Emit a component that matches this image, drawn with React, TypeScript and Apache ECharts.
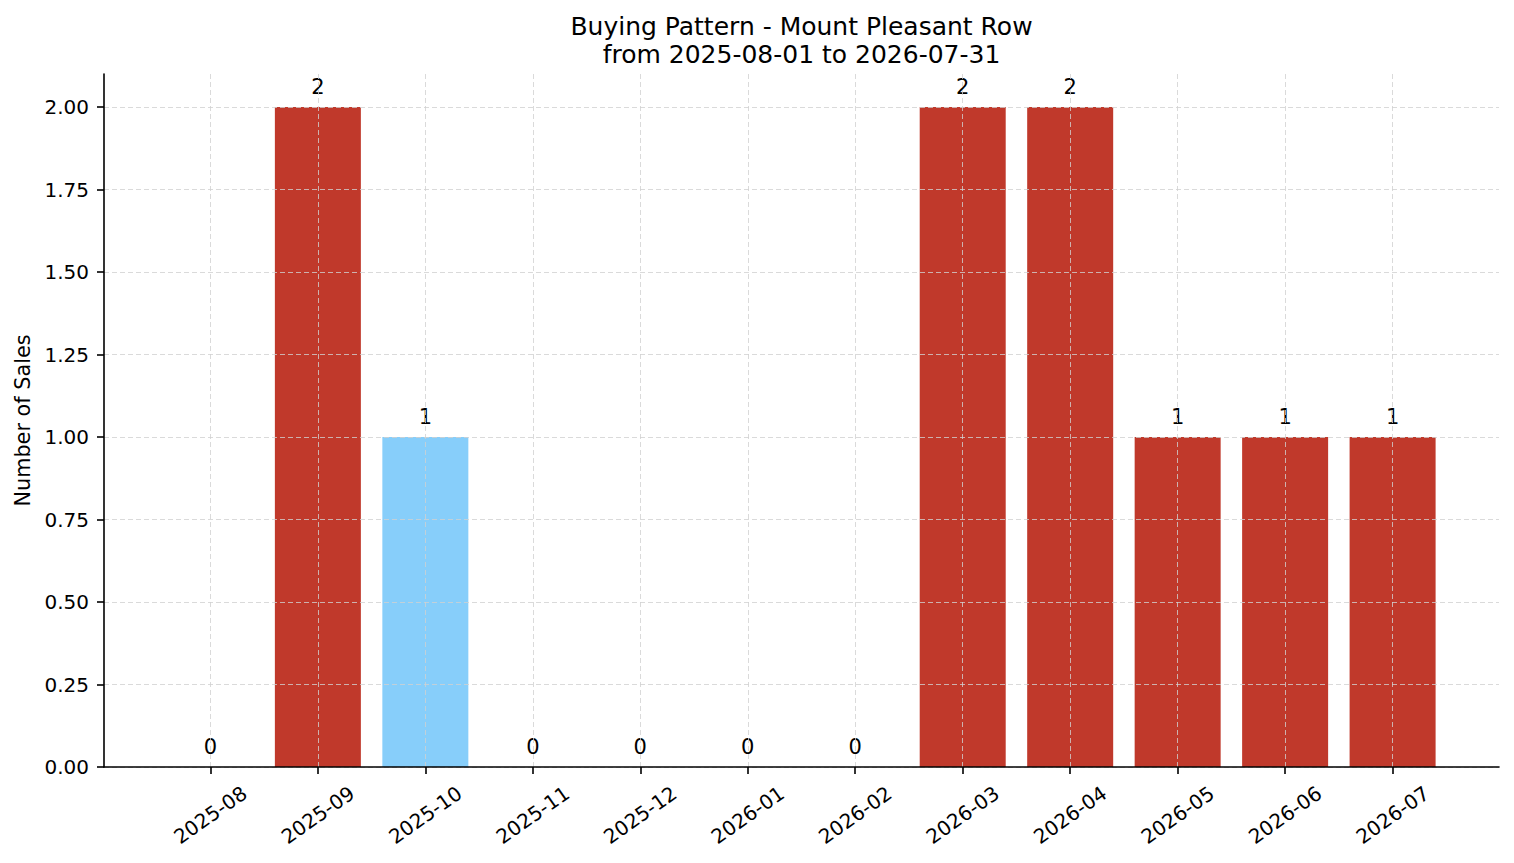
import { useEffect, useRef } from "react";
import * as echarts from "echarts";

const months = [
  "2025-08", "2025-09", "2025-10", "2025-11", "2025-12", "2026-01",
  "2026-02", "2026-03", "2026-04", "2026-05", "2026-06", "2026-07",
];
const sales = [0, 2, 1, 0, 0, 0, 0, 2, 2, 1, 1, 1];
// highlighted month is drawn light blue
const highlightMonth = "2025-10";
const yTicks = [0, 0.25, 0.5, 0.75, 1.0, 1.25, 1.5, 1.75, 2.0];

const RED = "#c0392b";
const BLUE = "#87cefa";
const FONT = "DejaVu Sans";

export default function App() {
  const chartRef = useRef<HTMLDivElement>(null);

  useEffect(() => {
    document.body.style.margin = "0";
    if (!chartRef.current) return;
    const chart = echarts.init(chartRef.current, null, { renderer: "svg" });

    const xTicks = months.map((_, i) => i);

    chart.setOption({
      animation: false,
      backgroundColor: "#ffffff",
      textStyle: { fontFamily: FONT },
      title: {
        text: "Buying Pattern - Mount Pleasant Row\nfrom 2025-08-01 to 2026-07-31",
        left: 796.5,
        top: 7,
        textAlign: "center",
        textStyle: {
          fontFamily: FONT,
          fontSize: 25,
          fontWeight: "normal",
          color: "#000",
          lineHeight: 28,
        },
      },
      grid: { left: 104, right: 15, top: 74, bottom: 96 },
      xAxis: {
        type: "value",
        min: -0.99,
        max: months.length - 0.01,
        z: 3,
        axisLine: {
          show: true,
          onZero: false,
          lineStyle: { color: "#000", width: 1.6 },
        },
        axisTick: {
          show: true,
          length: 7,
          customValues: xTicks,
          lineStyle: { color: "#000", width: 1.6 },
        },
        axisLabel: {
          customValues: xTicks,
          formatter: (v: number) => months[Math.round(v)] ?? "",
          rotate: 35,
          align: "center",
          verticalAlign: "middle",
          margin: 48,
          fontFamily: FONT,
          fontSize: 20,
          color: "#000",
        },
        splitLine: {
          show: true,
          lineStyle: { color: "#d0d0d0", width: 0.8, type: [5, 3] },
        },
      },
      yAxis: {
        type: "value",
        min: 0,
        max: 2.1,
        interval: 0.25,
        z: 3,
        name: "Number of Sales",
        nameLocation: "middle",
        nameGap: 70,
        nameTextStyle: { fontFamily: FONT, fontSize: 20.8, color: "#000" },
        axisLine: {
          show: true,
          onZero: false,
          lineStyle: { color: "#000", width: 1.6 },
        },
        axisTick: {
          show: true,
          length: 7,
          customValues: yTicks,
          lineStyle: { color: "#000", width: 1.6 },
        },
        axisLabel: {
          customValues: yTicks,
          formatter: (v: number) => v.toFixed(2),
          margin: 15,
          fontFamily: FONT,
          fontSize: 20,
          color: "#000",
        },
        splitLine: {
          show: true,
          lineStyle: { color: "#d0d0d0", width: 0.8, type: [5, 3] },
        },
      },
      series: [
        {
          type: "bar",
          barWidth: 86,
          data: sales.map((v, i) => ({
            value: [i, v],
            itemStyle: { color: months[i] === highlightMonth ? BLUE : RED },
          })),
          label: {
            show: true,
            position: "top",
            distance: 10,
            formatter: (p: any) => String(p.value[1]),
            fontFamily: FONT,
            fontSize: 21,
            color: "#000",
          },
        },
      ],
    });

    return () => {
      chart.dispose();
    };
  }, []);

  return <div ref={chartRef} style={{ width: 1514, height: 863 }} />;
}
